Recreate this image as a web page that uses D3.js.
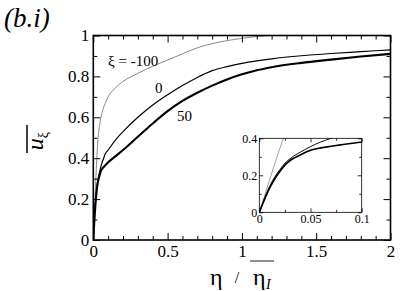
<!DOCTYPE html>
<html>
<head>
<meta charset="utf-8">
<script src="https://cdn.jsdelivr.net/npm/d3@7"></script>
<style>
  body { margin: 0; background: #fff; }
</style>
</head>
<body>
<div id="chart"></div>
<script>
// shared eta grid (eta / eta_I) and the three profiles
const eta = [0, 0.005, 0.01, 0.015, 0.02, 0.025, 0.03, 0.04, 0.05, 0.06, 0.07, 0.08, 0.1, 0.15, 0.2,
             0.3, 0.4, 0.5, 0.6, 0.7, 0.8, 0.9, 1.0, 1.1, 1.2, 1.4, 1.6, 1.8, 2.0];
const uXiM100 = [0, 0.087, 0.175, 0.26, 0.345, 0.42, 0.48, 0.55, 0.595, 0.625, 0.65, 0.668, 0.70, 0.745, 0.775,
                 0.815, 0.85, 0.88, 0.91, 0.94, 0.96, 0.975, 0.986, 0.995, 1.0, 1.0, 1.0, 1.0, 1.0];
const uXi0    = [0, 0.075, 0.14, 0.19, 0.23, 0.265, 0.29, 0.325, 0.355, 0.38, 0.40, 0.42, 0.44, 0.49, 0.53,
                 0.60, 0.66, 0.71, 0.755, 0.795, 0.828, 0.848, 0.864, 0.876, 0.886, 0.901, 0.912, 0.921, 0.93];
const uXi50   = [0, 0.068, 0.13, 0.18, 0.22, 0.255, 0.28, 0.31, 0.335, 0.348, 0.357, 0.365, 0.38, 0.41, 0.44,
                 0.505, 0.57, 0.63, 0.68, 0.72, 0.755, 0.785, 0.81, 0.83, 0.845, 0.866, 0.882, 0.897, 0.91];

const xTicks = [0, 0.5, 1, 1.5, 2];
const yTicks = [0, 0.2, 0.4, 0.6, 0.8, 1];
const insetXTicks = [0, 0.05, 0.1];
const insetYTicks = [0, 0.2, 0.4];

const FONT = "\"Liberation Serif\"";

const W = 407, H = 291;
const margin = { top: 35.5, right: 16.5, bottom: 51, left: 93.3 };

const svg = d3.select("#chart").append("svg")
    .attr("width", W)
    .attr("height", H);

const x = d3.scaleLinear().domain([0, 2]).range([margin.left, W - margin.right]);
const y = d3.scaleLinear().domain([0, 1]).range([H - margin.bottom, margin.top]);

const series = [
    { values: uXiM100, width: 0.7, color: "#555" },
    { values: uXi0, width: 1.2, color: "#000" },
    { values: uXi50, width: 2.1, color: "#000" }
];

// minor tick values (every 0.1)
const xMinor = d3.range(0, 2.0001, 0.1).map(d => +d.toFixed(2)).filter(d => !xTicks.includes(d));
const yMinor = d3.range(0, 1.0001, 0.1).map(d => +d.toFixed(2)).filter(d => !yTicks.includes(d));

// helper: serif text
function addText(sel, px, str) {
    return sel.append("text")
        .style("font-family", FONT)
        .style("font-size", px + "px")
        .attr("fill", "#000")
        .text(str);
}

function drawAxes(g, xs, ys, opts) {
    // bottom
    g.append("g")
        .attr("transform", `translate(0,${ys.range()[0]})`)
        .call(d3.axisBottom(xs).tickValues(opts.xTicks).tickSize(-opts.major).tickPadding(opts.xPad)
            .tickFormat(opts.xFmt))
        .call(a => a.select(".domain").remove());
    g.append("g")
        .attr("transform", `translate(0,${ys.range()[0]})`)
        .call(d3.axisBottom(xs).tickValues(opts.xMinor).tickSize(-opts.minor).tickFormat(""))
        .call(a => a.select(".domain").remove());
    // top
    g.append("g")
        .attr("transform", `translate(0,${ys.range()[1]})`)
        .call(d3.axisTop(xs).tickValues(opts.xTicks.concat(opts.xMinor)).tickSize(0).tickFormat(""))
        .call(a => a.select(".domain").remove())
        .call(a => a.selectAll("line").attr("y2", d => opts.xTicks.includes(d) ? opts.major : opts.minor));
    // left
    g.append("g")
        .attr("transform", `translate(${xs.range()[0]},0)`)
        .call(d3.axisLeft(ys).tickValues(opts.yTicks).tickSize(-opts.major).tickPadding(opts.yPad)
            .tickFormat(opts.yFmt))
        .call(a => a.select(".domain").remove());
    g.append("g")
        .attr("transform", `translate(${xs.range()[0]},0)`)
        .call(d3.axisLeft(ys).tickValues(opts.yMinor).tickSize(-opts.minor).tickFormat(""))
        .call(a => a.select(".domain").remove());
    // right
    g.append("g")
        .attr("transform", `translate(${xs.range()[1]},0)`)
        .call(d3.axisRight(ys).tickValues(opts.yTicks.concat(opts.yMinor)).tickSize(0).tickFormat(""))
        .call(a => a.select(".domain").remove())
        .call(a => a.selectAll("line").attr("x2", d => opts.yTicks.includes(d) ? -opts.major : -opts.minor));

    g.selectAll("g").attr("font-family", null).attr("font-size", null);
    g.selectAll(".tick line").attr("stroke", "#000").attr("stroke-width", opts.tickW);
    g.selectAll(".tick text")
        .style("font-family", FONT)
        .style("font-size", opts.font + "px")
        .attr("fill", "#000");

    // frame
    g.append("rect")
        .attr("x", xs.range()[0])
        .attr("y", ys.range()[1])
        .attr("width", xs.range()[1] - xs.range()[0])
        .attr("height", ys.range()[0] - ys.range()[1])
        .attr("fill", "none")
        .attr("stroke", "#000")
        .attr("stroke-width", opts.frameW);
}

// ---- main plot
const mainG = svg.append("g");

svg.append("clipPath").attr("id", "clipMain")
    .append("rect")
    .attr("x", x(0)).attr("y", y(1) - 1)
    .attr("width", x(2) - x(0)).attr("height", y(0) - y(1) + 1);

const line = d3.line()
    .x((d, i) => x(eta[i]))
    .y(d => y(d))
    .curve(d3.curveMonotoneX);

mainG.append("g").attr("clip-path", "url(#clipMain)")
    .selectAll("path")
    .data(series)
    .join("path")
    .attr("d", d => line(d.values))
    .attr("fill", "none")
    .attr("stroke", d => d.color)
    .attr("stroke-width", d => d.width);

drawAxes(mainG, x, y, {
    xTicks: xTicks, yTicks: yTicks, xMinor: xMinor, yMinor: yMinor,
    major: 7, minor: 4, xPad: 5, yPad: 4, font: 17, tickW: 1, frameW: 1.6,
    xFmt: d3.format(""), yFmt: d3.format("")
});

// ---- inset
const ix = d3.scaleLinear().domain([0, 0.1]).range([259.3, 361.7]);
const iy = d3.scaleLinear().domain([0, 0.4]).range([212.3, 138.3]);

svg.append("clipPath").attr("id", "clipInset")
    .append("rect")
    .attr("x", ix(0)).attr("y", iy(0.4))
    .attr("width", ix(0.1) - ix(0)).attr("height", iy(0) - iy(0.4));

const insetG = svg.append("g");

insetG.append("rect")
    .attr("x", ix(0)).attr("y", iy(0.4))
    .attr("width", ix(0.1) - ix(0)).attr("height", iy(0) - iy(0.4))
    .attr("fill", "#fff");

const iline = d3.line()
    .x((d, i) => ix(eta[i]))
    .y(d => iy(d))
    .curve(d3.curveMonotoneX);

insetG.append("g").attr("clip-path", "url(#clipInset)")
    .selectAll("path")
    .data(series)
    .join("path")
    .attr("d", d => iline(d.values))
    .attr("fill", "none")
    .attr("stroke", d => d.color)
    .attr("stroke-width", d => d.width * 0.8);

drawAxes(insetG, ix, iy, {
    xTicks: insetXTicks, yTicks: insetYTicks, xMinor: [0.025, 0.075], yMinor: [0.1, 0.3],
    major: 4, minor: 2.5, xPad: 2, yPad: 2, font: 12, tickW: 0.8, frameW: 0.8,
    xFmt: d3.format(""), yFmt: d3.format("")
});

// ---- curve labels
addText(svg, 15, "ξ = -100").attr("x", 108).attr("y", 66);
addText(svg, 15, "0").attr("x", 155).attr("y", 93);
addText(svg, 15, "50").attr("x", 177).attr("y", 121);

// ---- title
addText(svg, 27, "(b.i)").attr("x", 4).attr("y", 27).style("font-style", "italic");

// ---- x label: eta / eta_I with bar
addText(svg, 24, "η").attr("x", 210).attr("y", 285);
addText(svg, 16, "/").attr("x", 237).attr("y", 283).attr("text-anchor", "middle");
addText(svg, 24, "η").attr("x", 253).attr("y", 285);
addText(svg, 14, "I").attr("x", 266).attr("y", 289).style("font-style", "italic");
svg.append("line")
    .attr("x1", 250).attr("x2", 274).attr("y1", 261).attr("y2", 261)
    .attr("stroke", "#555").attr("stroke-width", 1.3);

// ---- y label: u_xi with bar (rotated)
const yl = svg.append("g").attr("transform", "translate(43,141) rotate(-90)");
const ylt = addText(yl, 24, "").attr("text-anchor", "middle").style("font-style", "italic");
ylt.append("tspan").text("u");
ylt.append("tspan").attr("dy", 5).style("font-size", "14px").style("font-style", "normal").text("ξ");
svg.append("line")
    .attr("x1", 27).attr("x2", 27).attr("y1", 125).attr("y2", 153)
    .attr("stroke", "#000").attr("stroke-width", 1.5);
</script>
</body>
</html>
